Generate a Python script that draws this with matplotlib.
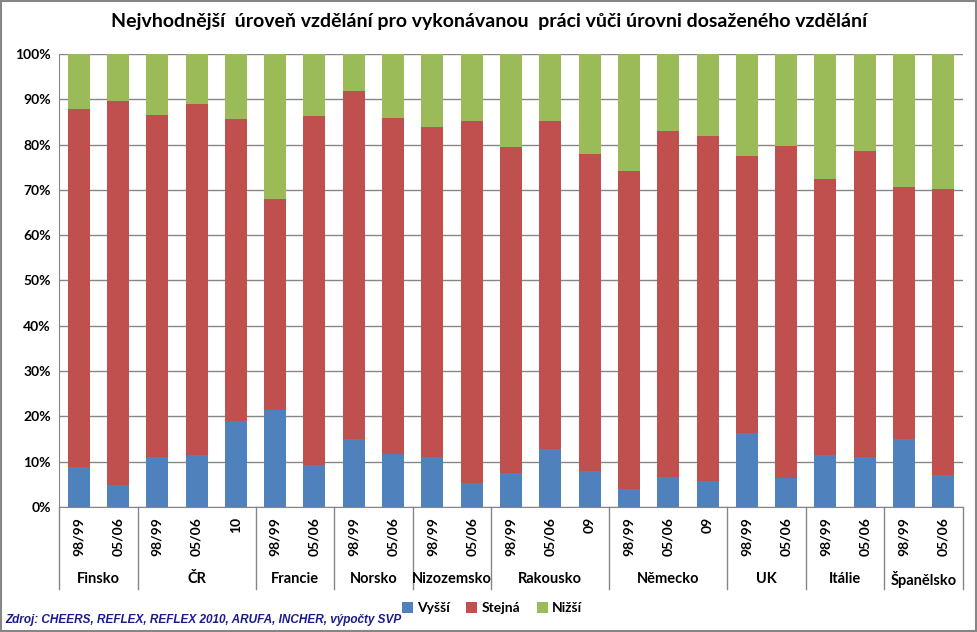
import matplotlib.pyplot as plt
import matplotlib.transforms as mtransforms
from matplotlib.patches import Rectangle
import numpy as np

plt.rcParams['font.family'] = ['Lato', 'DejaVu Sans']

# data (percent)
groups = ["Finsko", "ČR", "Francie", "Norsko", "Nizozemsko", "Rakousko",
          "Německo", "UK", "Itálie", "Španělsko"]
years = [["98/99", "05/06"], ["98/99", "05/06", "10"], ["98/99", "05/06"],
         ["98/99", "05/06"], ["98/99", "05/06"], ["98/99", "05/06", "09"],
         ["98/99", "05/06", "09"], ["98/99", "05/06"], ["98/99", "05/06"],
         ["98/99", "05/06"]]
vyssi = [8.9, 4.9, 11.1, 11.4, 18.9, 21.5, 9.3, 15.1, 11.8, 11.0, 5.2,
         7.4, 12.9, 7.9, 4.0, 6.7, 5.8, 16.3, 6.5, 11.5, 11.0, 15.1, 7.0]
vyssi_plus_stejna = [87.9, 89.6, 86.5, 89.0, 85.7, 68.0, 86.3, 91.8, 85.9, 83.9, 85.2,
                     79.5, 85.1, 77.9, 74.2, 83.0, 81.9, 77.5, 79.7, 72.4, 78.6, 70.7, 70.2]

vyssi = np.array(vyssi)
stejna = np.array(vyssi_plus_stejna) - vyssi
nizsi = 100 - vyssi - stejna

labels = [y for g in years for y in g]
x = np.arange(len(labels))

blue = "#4F81BD"
red = "#C0504D"
green = "#9BBB59"
grey = "#868686"

fig = plt.figure(figsize=(9.78, 6.32), dpi=100)
ax = fig.add_axes([59 / 978, 1 - 507 / 632, (963 - 59) / 978, (507 - 54) / 632])

w = 0.56
ax.bar(x, vyssi, w, color=blue, label="Vyšší", zorder=3)
ax.bar(x, stejna, w, bottom=vyssi, color=red, label="Stejná", zorder=3)
ax.bar(x, nizsi, w, bottom=vyssi + stejna, color=green, label="Nižší", zorder=3)

ax.set_xlim(-0.5, len(labels) - 0.5)
ax.set_ylim(0, 100)
ax.set_yticks(range(0, 101, 10))
ax.set_yticklabels([f"{v}%" for v in range(0, 101, 10)], fontsize=10, fontweight="bold")
ax.yaxis.grid(True, color=grey, linewidth=1, zorder=0)
ax.tick_params(axis="y", length=0, pad=6)
for s in ["top", "right"]:
    ax.spines[s].set_visible(False)
ax.spines["left"].set_color(grey)
ax.spines["bottom"].set_color(grey)
ax.spines["bottom"].set_zorder(4)

ax.set_xticks(x)
ax.set_xticklabels([])
ax.tick_params(axis="x", length=0)

# two-level category axis
trans = mtransforms.blended_transform_factory(ax.transData, ax.transAxes)
for xi, lab in zip(x, labels):
    ax.text(xi, -0.022, lab, rotation=90, ha="center", va="top", fontsize=10,
            fontweight="bold", transform=trans)

start = 0
bounds = [-0.5]
for g, ys in zip(groups, years):
    end = start + len(ys)
    ax.text((start + end - 1) / 2, -0.16, g, ha="center", va="center", fontsize=10.5,
            fontweight="bold", transform=trans)
    bounds.append(end - 0.5)
    start = end
for b in bounds:
    ax.plot([b, b], [0, -0.182], color=grey, linewidth=1, transform=trans, clip_on=False)

fig.text(489 / 978, 1 - 22 / 632, "Nejvhodnější  úroveň vzdělání pro vykonávanou  práci vůči úrovni dosaženého vzdělání",
         ha="center", va="center", fontsize=14, fontweight="bold")

fig.legend(loc="center", bbox_to_anchor=(492 / 978, 1 - 608 / 632), ncol=3, frameon=False,
           prop={"weight": "bold", "size": 10}, handlelength=0.8, handleheight=0.8,
           handletextpad=0.3, columnspacing=1.2)

fig.text(5 / 978, 1 - 620 / 632, "Zdroj: CHEERS, REFLEX, REFLEX 2010, ARUFA, INCHER, výpočty SVP",
         ha="left", va="center", fontsize=8.5, fontweight="bold", style="italic",
         color="#1A1A8C", family=["Liberation Sans", "DejaVu Sans"])

fig.patches.append(Rectangle((0.001, 0.001), 0.997, 0.997, transform=fig.transFigure,
                             fill=False, edgecolor=grey, linewidth=1.5))

fig.savefig("out.png", dpi=100)
